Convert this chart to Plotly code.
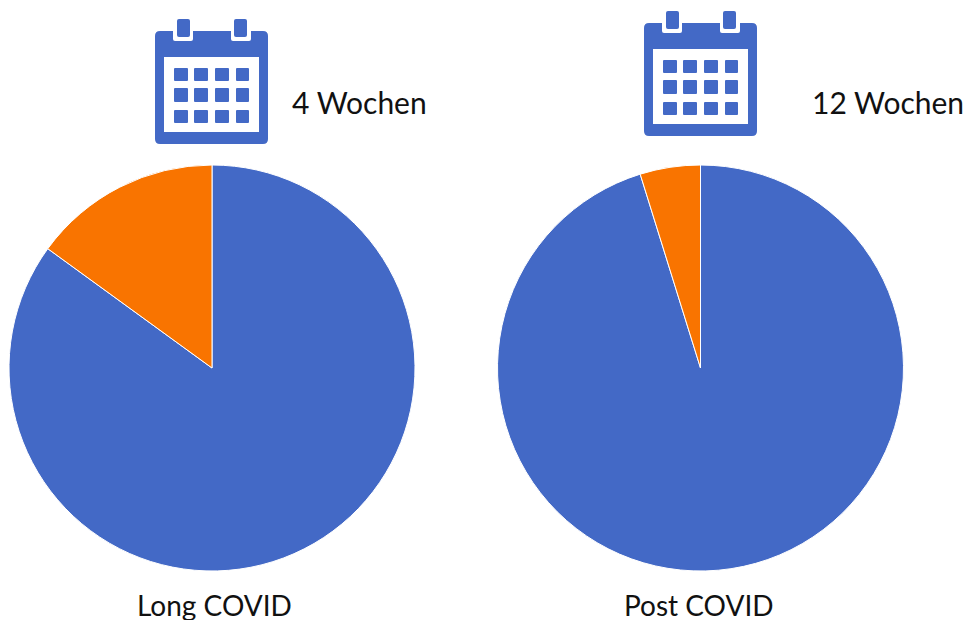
import plotly.graph_objects as go

W, H = 966, 621

# Data
slice_labels = ["Übrige", "Anteil betroffen"]
long_covid_values = [85, 15]
post_covid_values = [95.2, 4.8]
slice_colors = ["#4369C6", "#F97400"]
pie_titles = ["Long COVID", "Post COVID"]
week_labels = ["4 Wochen", "12 Wochen"]

BLUE = "#4369C6"
FONT = "Lato, Carlito, sans-serif"


def px(v):
    return v / W


def py(v):
    return 1 - v / H


def pie(values, cx, cy, r, name):
    return go.Pie(
        labels=slice_labels, values=values, name=name, sort=False,
        direction="counterclockwise", rotation=0, textinfo="none",
        marker=dict(colors=slice_colors, line=dict(color="#FFFFFF", width=1)),
        domain=dict(x=[px(cx - r), px(cx + r)], y=[py(cy + r), py(cy - r)]),
        showlegend=False, hoverinfo="label+percent",
    )


def rounded(x0, y0, x1, y1, r):
    return (
        f"M{px(x0 + r)},{py(y0)} L{px(x1 - r)},{py(y0)} Q{px(x1)},{py(y0)} {px(x1)},{py(y0 + r)} "
        f"L{px(x1)},{py(y1 - r)} Q{px(x1)},{py(y1)} {px(x1 - r)},{py(y1)} "
        f"L{px(x0 + r)},{py(y1)} Q{px(x0)},{py(y1)} {px(x0)},{py(y1 - r)} "
        f"L{px(x0)},{py(y0 + r)} Q{px(x0)},{py(y0)} {px(x0 + r)},{py(y0)} Z"
    )


def shape(path, color):
    return dict(type="path", xref="paper", yref="paper", path=path,
                fillcolor=color, line=dict(width=0), layer="above")


def calendar(dx, dy):
    out = [shape(rounded(155 + dx, 31 + dy, 268 + dx, 144 + dy, 5), BLUE)]
    for x0, x1 in ((173, 193), (231, 251)):
        out.append(shape(rounded(x0 + dx, 25 + dy, x1 + dx, 41 + dy, 2), "#FFFFFF"))
    for x0, x1 in ((177, 190), (234, 247)):
        out.append(shape(rounded(x0 + dx, 19 + dy, x1 + dx, 37 + dy, 2), BLUE))
    out.append(shape(rounded(164 + dx, 57 + dy, 259 + dx, 132 + dy, 0.01), "#FFFFFF"))
    for y0, y1 in ((68, 81), (88, 102), (110, 123)):
        for x0, x1 in ((174, 188), (194, 208), (215, 229), (236, 249)):
            out.append(shape(rounded(x0 + dx, y0 + dy, x1 + dx, y1 + dy, 1), BLUE))
    return out


def label(text, x, y, size, height=None):
    return dict(text=text, xref="paper", yref="paper", x=px(x), y=py(y),
                xanchor="center", yanchor="middle", showarrow=False, height=height,
                font=dict(family=FONT, size=size, color="#111111"))


fig = go.Figure([
    pie(long_covid_values, 212, 368, 203, pie_titles[0]),
    pie(post_covid_values, 700.5, 368, 203, pie_titles[1]),
])
fig.update_layout(
    width=W, height=H, margin=dict(l=0, r=0, t=0, b=0),
    paper_bgcolor="#FFFFFF", plot_bgcolor="#FFFFFF",
    shapes=calendar(0, 0) + calendar(489, -8),
    annotations=[
        label(week_labels[0], 359.5, 102, 30),
        label(week_labels[1], 888, 102, 30),
        label(pie_titles[0], 214, 605, 28, 30),
        label(pie_titles[1], 699, 605, 28, 30),
    ],
)
fig.write_html("out.html", config={"displayModeBar": False},
               post_script="document.body.style.margin='0';document.documentElement.style.overflow='hidden';")
